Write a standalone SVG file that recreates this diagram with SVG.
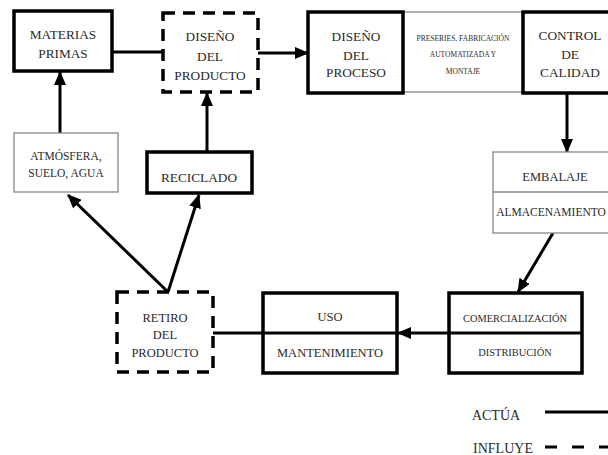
<svg xmlns="http://www.w3.org/2000/svg" width="608" height="455" viewBox="0 0 608 455">
<defs>
<style>
.thick{fill:#fff;stroke:#000;stroke-width:3.5}
.dash{fill:#fff;stroke:#000;stroke-width:3.5;stroke-dasharray:12 8}
.thin{fill:#fff;stroke:#888;stroke-width:1.3}
.div{stroke:#000;stroke-width:3}
.tdiv{stroke:#888;stroke-width:1.3}
.conn{fill:none;stroke:#000;stroke-width:3}
text{font-family:"Liberation Serif","Times New Roman",serif;fill:#2a2a2a;text-anchor:middle}
.l{font-size:13.3px}
.m{font-size:12.5px}
.a{font-size:11.5px}
.s{font-size:10.4px}
.xs{font-size:7.5px}
.lg{font-size:14px}
</style>
<marker id="arr" viewBox="0 0 14 12" refX="13" refY="6" markerWidth="14" markerHeight="12" markerUnits="userSpaceOnUse" orient="auto">
<path d="M0,0 L14,6 L0,12 Z" fill="#000"/>
</marker>
</defs>
<rect width="608" height="455" fill="#fff"/>

<g id="connectors">
<line class="conn" x1="112" y1="52" x2="163" y2="52"/>
<line class="conn" x1="258" y1="53" x2="308" y2="53" marker-end="url(#arr)"/>
<line class="conn" x1="567" y1="93" x2="567" y2="152" marker-end="url(#arr)"/>
<line class="conn" x1="553" y1="233" x2="518" y2="292" marker-end="url(#arr)"/>
<line class="conn" x1="449" y1="333" x2="398" y2="333" marker-end="url(#arr)"/>
<line class="conn" x1="263" y1="333" x2="213" y2="333"/>
<line class="conn" x1="168" y1="292" x2="68" y2="195" marker-end="url(#arr)"/>
<line class="conn" x1="168" y1="292" x2="199" y2="195" marker-end="url(#arr)"/>
<line class="conn" x1="60" y1="133" x2="60" y2="72" marker-end="url(#arr)"/>
<line class="conn" x1="207" y1="152" x2="207" y2="93" marker-end="url(#arr)"/>
</g>

<g id="materias-primas">
<rect class="thick" x="14" y="11" width="98" height="60"/>
<text class="l" x="63" y="39">MATERIAS</text>
<text class="l" x="63" y="58">PRIMAS</text>
</g>

<g id="diseno-producto">
<rect class="dash" x="163" y="13" width="95" height="79"/>
<text class="l" x="210" y="41">DISEÑO</text>
<text class="l" x="210" y="61">DEL</text>
<text class="l" x="210" y="80">PRODUCTO</text>
</g>

<g id="preseries">
<rect class="thin" x="403" y="12" width="120" height="80"/>
<text class="xs" x="463" y="41">PRESERIES, FABRICACIÓN</text>
<text class="xs" x="463" y="57">AUTOMATIZADA Y</text>
<text class="xs" x="463" y="74">MONTAJE</text>
</g>

<g id="diseno-proceso">
<rect class="thick" x="308" y="12" width="95" height="81"/>
<text class="l" x="356" y="41">DISEÑO</text>
<text class="l" x="356" y="60">DEL</text>
<text class="l" x="356" y="77">PROCESO</text>
</g>

<g id="control-calidad">
<rect class="thick" x="523" y="12" width="95" height="81"/>
<text class="l" x="570" y="40">CONTROL</text>
<text class="l" x="570" y="59">DE</text>
<text class="l" x="570" y="77">CALIDAD</text>
</g>

<g id="embalaje">
<rect class="thin" x="493" y="152" width="125" height="81"/>
<line class="tdiv" x1="493" y1="192" x2="618" y2="192"/>
<text class="m" x="555" y="181">EMBALAJE</text>
<text class="a" x="551" y="216">ALMACENAMIENTO</text>
</g>

<g id="atmosfera">
<rect class="thin" x="14" y="133" width="104" height="59"/>
<text class="a" x="66" y="160">ATMÓSFERA,</text>
<text class="a" x="66" y="177">SUELO, AGUA</text>
</g>

<g id="reciclado">
<rect class="thick" x="147" y="152" width="105" height="41"/>
<text class="l" x="199" y="182">RECICLADO</text>
</g>

<g id="comercializacion">
<rect class="thick" x="449" y="293" width="133" height="80"/>
<line class="div" x1="449" y1="333" x2="582" y2="333"/>
<text class="s" x="515" y="322">COMERCIALIZACIÓN</text>
<text class="s" x="515" y="356">DISTRIBUCIÓN</text>
</g>

<g id="uso">
<rect class="thick" x="263" y="293" width="134" height="80"/>
<line class="div" x1="263" y1="333" x2="397" y2="333"/>
<text class="m" x="330" y="321">USO</text>
<text class="m" x="330" y="357">MANTENIMIENTO</text>
</g>

<g id="retiro-producto">
<rect class="dash" x="117" y="292" width="96" height="80"/>
<text class="m" x="165" y="322">RETIRO</text>
<text class="m" x="165" y="339">DEL</text>
<text class="m" x="165" y="357">PRODUCTO</text>
</g>

<g id="legend">
<text class="lg" x="496" y="420">ACTÚA</text>
<line class="conn" x1="545" y1="412" x2="610" y2="412"/>
<text class="lg" x="503" y="453">INFLUYE</text>
<line class="conn" x1="545" y1="447" x2="610" y2="447" stroke-dasharray="12 15"/>
</g>
</svg>
